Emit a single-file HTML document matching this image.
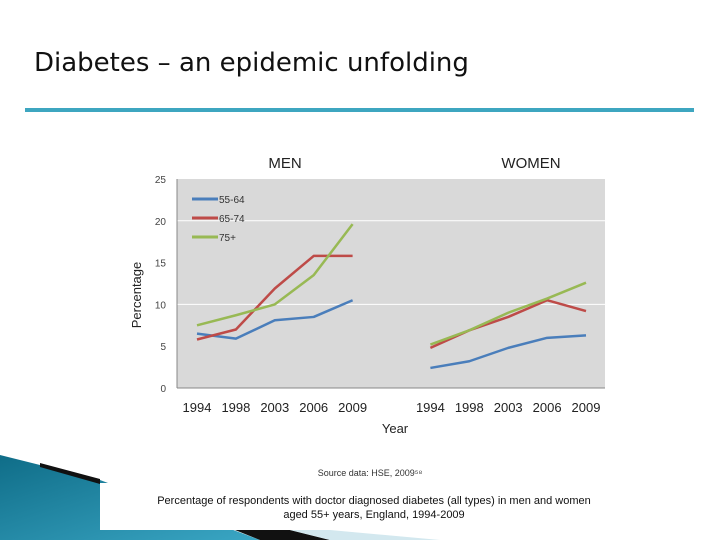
<!DOCTYPE html>
<html><head><meta charset="utf-8"><style>
body{margin:0;width:720px;height:540px;background:#fff;overflow:hidden;font-family:"Liberation Sans",sans-serif}
</style></head><body>
<svg width="720" height="540" viewBox="0 0 720 540">
<defs><linearGradient id="tg" x1="0" y1="0" x2="1" y2="1"><stop offset="0" stop-color="#0f6d88"/><stop offset="1" stop-color="#3aa6c4"/></linearGradient></defs>
<text x="34" y="71" font-size="26" fill="#111" font-family="DejaVu Sans, sans-serif">Diabetes – an epidemic unfolding</text>
<rect x="25" y="108" width="669" height="4" fill="#3ea6c0"/>
<g>
<polygon points="0,455 100,480 260,540 0,540" fill="url(#tg)"/>
<polygon points="40,463 100,479 100,484 40,467" fill="#111"/>
<polygon points="235,530 290,530 330,540 260,540" fill="#111"/>
<polygon points="290,530 330,530 440,540 330,540" fill="#d3e8ef"/>
<rect x="100" y="483" width="540" height="47" fill="#fff"/>
</g>
<g id="chart"></g>
<text x="285" y="168" font-size="15" fill="#222" text-anchor="middle">MEN</text>
<text x="531" y="168" font-size="15" fill="#222" text-anchor="middle">WOMEN</text>
<text x="141" y="295" font-size="13" fill="#222" text-anchor="middle" transform="rotate(-90 141 295)">Percentage</text>
<text x="395" y="433" font-size="13" fill="#222" text-anchor="middle">Year</text>
<text x="370" y="476" font-size="9" fill="#333" text-anchor="middle">Source data: HSE, 2009⁵⁸</text>
<text x="374" y="504" font-size="11" fill="#111" text-anchor="middle">Percentage of respondents with doctor diagnosed diabetes (all types) in men and women</text>
<text x="374" y="518" font-size="11" fill="#111" text-anchor="middle">aged 55+ years, England, 1994-2009</text>
</svg>
<script>
const years=["1994","1998","2003","2006","2009"];
const yTicks=[0,5,10,15,20,25];
const gridValues=[10,20];
const seriesNames=["55-64","65-74","75+"];
const seriesColors=["#4a7ebb","#be4b48","#98b954"];
const men5564=[6.5,5.9,8.1,8.5,10.5];
const men6574=[5.8,7.0,11.9,15.8,15.8];
const men75=[7.5,8.7,10.0,13.5,19.6];
const women5564=[2.4,3.2,4.8,6.0,6.3];
const women6574=[4.8,6.9,8.5,10.5,9.2];
const women75=[5.2,6.9,9.0,10.7,12.6];

const NS="http://www.w3.org/2000/svg";
const g=document.getElementById('chart');
const X0=177,X1=605,Y0=388,Y1=179;
const yS=v=>Y0-(v/25)*(Y0-Y1);
const xS=i=>197+i*38.9;
function mk(t,a){const e=document.createElementNS(NS,t);for(const k in a)e.setAttribute(k,a[k]);g.appendChild(e);return e;}
let bg=mk('rect',{x:X0,y:Y1,width:X1-X0,height:Y0-Y1,fill:'#d9d9d9'});


gridValues.forEach(v=>{let l=mk('line',{x1:X0,x2:X1,y1:yS(v),y2:yS(v),stroke:'#fff','stroke-width':1});

});
let ax=mk('line',{x1:X0,x2:X0,y1:Y1,y2:Y0,stroke:'#888'});


let bx=mk('line',{x1:X0,x2:X1,y1:Y0,y2:Y0,stroke:'#888'});


yTicks.forEach(v=>{let t=mk('text',{x:X0-11,y:yS(v)+4,'font-size':10,fill:'#444','text-anchor':'end'});t.textContent=v;

});
[0,6].forEach(off=>years.forEach((y,i)=>{let t=mk('text',{x:xS(i+off),y:412,'font-size':13,fill:'#222','text-anchor':'middle'});t.textContent=y;

}));
const groups=[[men5564,men6574,men75],[women5564,women6574,women75]];
groups.forEach((grp,gi)=>grp.forEach((vals,si)=>{
  const pts=vals.map((v,i)=>xS(i+gi*6)+','+yS(v)).join(' ');
  let p=mk('polyline',{points:pts,fill:'none',stroke:seriesColors[si],'stroke-width':2.5,'stroke-linejoin':'round'});
  
  
}));
seriesNames.forEach((n,i)=>{const y=199+i*19;
  let l=mk('line',{x1:192,x2:218,y1:y,y2:y,stroke:seriesColors[i],'stroke-width':3});
  
  
  let t=mk('text',{x:219,y:y+4,'font-size':10,fill:'#333'});t.textContent=n;
  
  
});
</script>
</body></html>
